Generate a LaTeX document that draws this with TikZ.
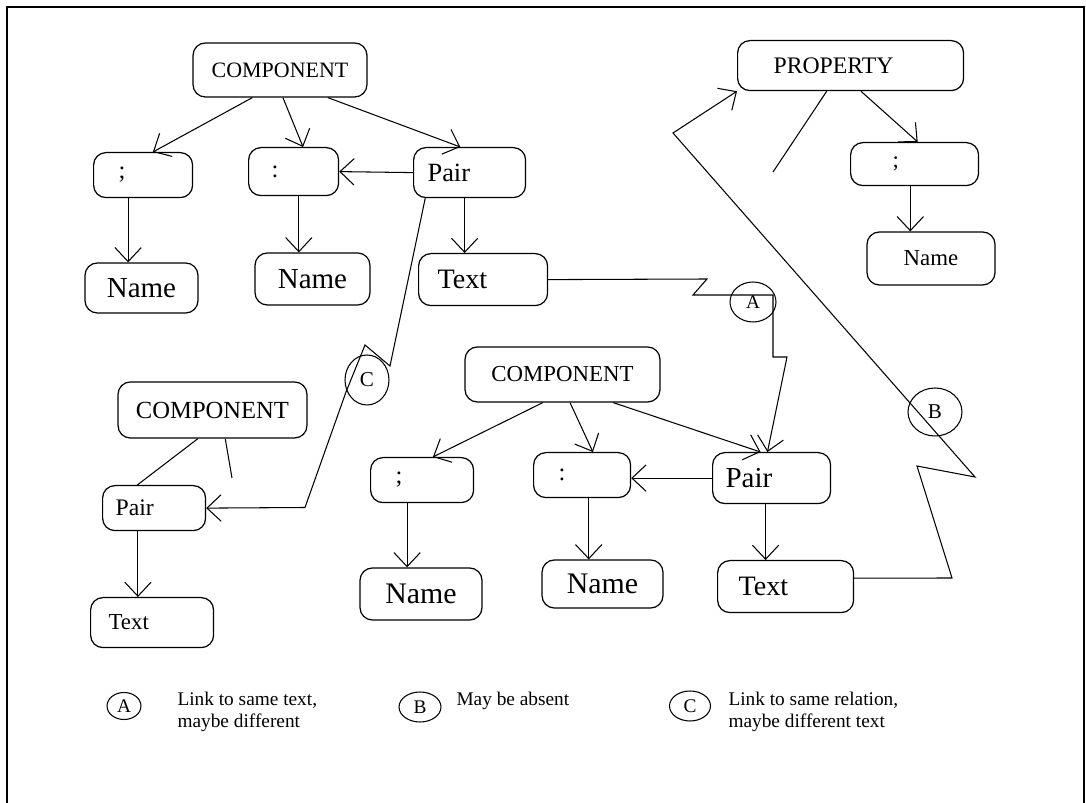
\documentclass[tikz,border=0pt]{standalone}
\usepackage{fontspec}
\setmainfont{Liberation Serif}
\usetikzlibrary{arrows.meta,shapes.geometric}

\tikzset{
  box/.style={draw, rounded corners=7pt, line width=0.7pt, inner ysep=0pt},
  lbox/.style={box, anchor=north west},
  ring/.style={draw, ellipse, line width=0.6pt, inner sep=0pt},
  fs/.style={font=\fontsize{#1}{#1}\selectfont},
}

\begin{document}
\begin{tikzpicture}[x=0.02cm, y=-0.02cm, line width=0.6pt,
    >={Straight Barb[length=8pt,width=15pt]}]
    \useasboundingbox (0,0) rectangle (1086,803);
    % Marco
    \draw[line width=1pt] (7,803) -- (7,7) -- (1084,7) -- (1084,803);

    % Arbol superior
    \node[box, fs=12.5, minimum width=3.48cm, minimum height=1.08cm] (c1) at (280,70) {COMPONENT};
    \node[lbox, fs=14, text width=0.98cm, inner xsep=0.5cm, minimum height=0.9cm] (s1) at (93,152) {;};
    \node[lbox, fs=14, text width=0.88cm, inner xsep=0.46cm, minimum height=0.96cm] (k1) at (248,147) {:};
    \node[lbox, fs=15, text width=1.68cm, inner xsep=0.28cm, minimum height=1cm] (p1) at (413,147) {Pair};
    \node[box, fs=16.5, minimum width=2.26cm, minimum height=1cm] (n1) at (141.5,288) {Name};
    \node[box, fs=16.5, minimum width=2.3cm, minimum height=1.04cm] (n2) at (312.5,279) {Name};
    \node[lbox, fs=16, text width=1.82cm, inner xsep=0.38cm, minimum height=1.04cm] (t1) at (418,253) {Text};

    \draw[->] (c1.225) -- (s1.67);
    \draw[->] (c1.276) -- (k1.69);
    \draw[->] (c1.330) -- (p1.110);
    \draw[->] (s1.237) -- (s1.237 |- n1.north);
    \draw[->] (k1.282) -- (k1.282 |- n2.north);
    \draw[->] (p1.west) -- (k1.east);
    \draw[->] (p1.259) -- (p1.259 |- t1.north);

    % Propiedad
    \node[lbox, fs=13.5, text width=3.08cm, inner xsep=0.72cm, minimum height=1cm] (pr) at (737,40) {PROPERTY};
    \node[lbox, fs=13, text width=0.88cm, inner xsep=0.84cm, minimum height=0.86cm] (sp) at (850,142) {;};
    \node[box, fs=13, minimum width=2.56cm, minimum height=1.06cm] (np) at (931,258.5) {Name};
    \coordinate (pf) at (773,172);

    \draw (pr.227) -- (pf);
    \draw[->] (pr.292) -- (sp.82);
    \draw[->] (sp.259) -- (sp.259 |- np.north);

    % Arbol inferior izquierdo
    \node[box, fs=14, minimum width=3.78cm, minimum height=1.12cm] (c3) at (212.5,410) {COMPONENT};
    \node[lbox, fs=13.5, text width=1.54cm, inner xsep=0.26cm, minimum height=0.9cm] (p3) at (102,485) {Pair};
    \node[lbox, fs=13, text width=1.74cm, inner xsep=0.36cm, minimum height=1cm] (t3) at (90,597) {Text};
    \coordinate (cf) at (232,478);

    \draw (c3.243) -- (p3.126);
    \draw (c3.294) -- (cf);
    \draw[->] (p3.235) -- (p3.235 |- t3.north);

    % Arbol central
    \node[box, fs=13, minimum width=3.9cm, minimum height=1.1cm] (c2) at (562.5,374.5) {COMPONENT};
    \node[lbox, fs=14, text width=1.06cm, inner xsep=0.5cm, minimum height=0.9cm] (s2) at (370,457) {;};
    \node[lbox, fs=14, text width=0.94cm, inner xsep=0.5cm, minimum height=0.9cm] (k2) at (533,452) {:};
    \node[lbox, fs=16.5, text width=1.84cm, inner xsep=0.26cm, minimum height=1.02cm] (p2) at (712,452) {Pair};
    \node[box, fs=17, minimum width=2.44cm, minimum height=1.04cm] (n4) at (421,594) {Name};
    \node[box, fs=17, minimum width=2.42cm, minimum height=0.96cm] (n5) at (602.5,584) {Name};
    \node[lbox, fs=16, text width=1.88cm, inner xsep=0.42cm, minimum height=1.04cm] (t2) at (717,560) {Text};

    \draw[->] (c2.235) -- (s2.65);
    \draw[->] (c2.285) -- (k2.65);
    \draw[->] (c2.331) -- (p2.113);
    \draw[->] (s2.237) -- (s2.237 |- n4.north);
    \draw[->] (k2.286) -- (k2.286 |- n5.north);
    \draw[->] (p2.west) -- (p2.west -| k2.east);
    \draw[->] (p2.257) -- (p2.257 |- t2.north);

    % Enlaces A, B, C
    \node[ring, fs=11, minimum width=0.92cm, minimum height=0.8cm] (ca) at (753,302) {A};
    \node[ring, fs=12, minimum width=1.08cm, minimum height=0.96cm] (cb) at (935,412) {B};
    \node[ring, fs=12, minimum width=0.88cm, minimum height=1cm] (cc) at (367,380) {C};

    \draw[->] (t1.east) -- (707,279) -- (693,295) -- (773,295) -- (773,357) -- (787,357) -- (p2.99);
    \draw[->] (p1.210) -- (390,366) -- (365,345) -- (346,392) -- (305,507.5) -- (p3.east);
    \draw[->] (t2.7) -- (952,578) -- (917,466) -- (975,477) -- (673,133) -- (pr.south west);

    % Leyenda
    \node[ring, fs=11, minimum width=0.68cm, minimum height=0.54cm] (la) at (124,706) {A};
    \node[ring, fs=11, minimum width=0.84cm, minimum height=0.6cm] (lb) at (420,707) {B};
    \node[ring, fs=11, minimum width=0.82cm, minimum height=0.6cm] (lc) at (690,706) {C};
    \node[anchor=north west, align=left, inner sep=0pt, font=\fontsize{11}{12.5}\selectfont] (la-t) at (177,692) {Link to same text,\\maybe different};
    \node[anchor=north west, align=left, inner sep=0pt, font=\fontsize{11}{12.5}\selectfont] (lb-t) at (456,692) {May be absent};
    \node[anchor=north west, align=left, inner sep=0pt, font=\fontsize{11}{12.5}\selectfont] (lc-t) at (728,692) {Link to same relation,\\maybe different text};
\end{tikzpicture}
\end{document}
